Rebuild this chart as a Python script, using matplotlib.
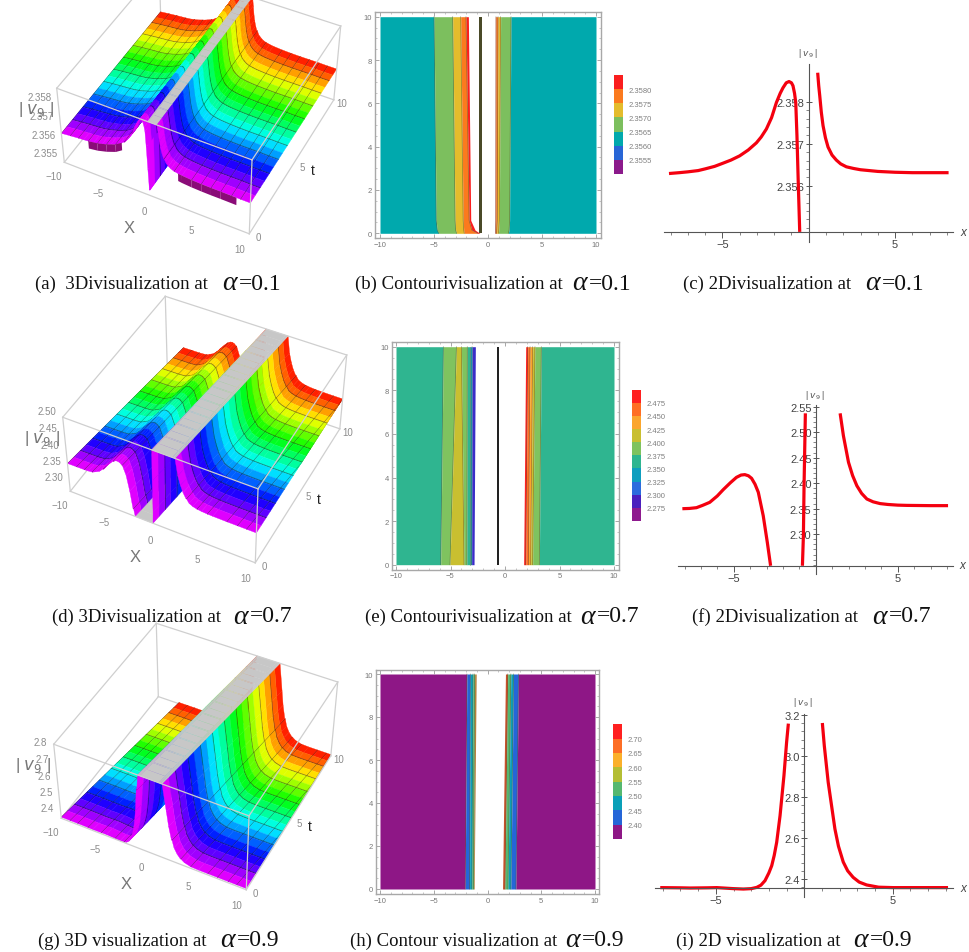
import numpy as np
import matplotlib
matplotlib.use('Agg')
import matplotlib.pyplot as plt
from matplotlib.colors import hsv_to_rgb

W, H = 969, 953
plt.rcParams['font.family'] = ['Liberation Sans', 'DejaVu Sans']

# profiles |v9|(x), extended to +-10 for the 3D panels
a_left_x = [-10, -9, -8.09, -7.5, -7, -6.4, -6, -5.45, -5, -4.5, -4, -3.5, -3.03, -2.75, -2.45, -2.15, -1.87, -1.65, -1.49, -1.3, -1.14, -1.0, -0.91, -0.82, -0.75, -0.68, -0.6, -0.52]
a_left_y = [2.3562, 2.35625, 2.35629, 2.35631, 2.35633, 2.35636, 2.3564, 2.35646, 2.35653, 2.35661, 2.35671, 2.35685, 2.35702, 2.35716, 2.35735, 2.35762, 2.35798, 2.3582, 2.35833, 2.35845, 2.35848, 2.35845, 2.35838, 2.3582, 2.35798, 2.35719, 2.35601, 2.3549]
a_mid_x = [-0.47, -0.44]
a_mid_y = [2.3549, 2.359]
a_right_x = [0.52, 0.58, 0.64, 0.73, 0.83, 0.97, 1.12, 1.35, 1.6, 1.85, 2.18, 2.6, 3, 4, 5, 6, 7, 8.1, 9, 10]
a_right_y = [2.35869, 2.35838, 2.35814, 2.35775, 2.35743, 2.35714, 2.35692, 2.35673, 2.35661, 2.35652, 2.35645, 2.35641, 2.35638, 2.35634, 2.35632, 2.35631, 2.35631, 2.35631, 2.3563, 2.3563]
# dark strip under the front edge of panel (a)
a_skirt_left_x = [-7.0, -6.0, -5.0, -4.0, -3.3]
a_skirt_left_y = [2.35633, 2.3564, 2.35653, 2.35671, 2.35693]
a_skirt_right_x = [2.6, 3, 4, 5, 6, 7, 8.6]
a_skirt_right_y = [2.35641, 2.35638, 2.35634, 2.35632, 2.35631, 2.35631, 2.3563]

d_left_x = [-10, -9, -8.13, -7.7, -7.27, -6.9, -6.46, -6.0, -5.64, -5.2, -4.83, -4.55, -4.32, -4.1, -3.91, -3.7, -3.5, -3.2, -2.95, -2.75]
d_left_y = [2.3495, 2.3498, 2.35, 2.3505, 2.352, 2.3565, 2.3625, 2.375, 2.3873, 2.401, 2.4115, 2.416, 2.4168, 2.4145, 2.4096, 2.398, 2.3822, 2.3363, 2.2839, 2.2381]
d_mid_x = [-0.81, -0.75, -0.71, -0.63]
d_mid_y = [2.2381, 2.297, 2.395, 2.537]
d_right_x = [1.49, 1.69, 2.0, 2.25, 2.51, 2.8, 3.12, 3.5, 3.93, 4.4, 5, 5.56, 7, 8.07, 9, 10]
d_right_y = [2.537, 2.493, 2.441, 2.415, 2.395, 2.38, 2.369, 2.3635, 2.36, 2.3583, 2.357, 2.3565, 2.356, 2.356, 2.356, 2.356]

g_left_x = [-10, -9, -8.14, -7, -6.45, -5.5, -4.94, -4, -3.44, -3.0, -2.69, -2.45, -2.22, -2.0, -1.84, -1.7, -1.56, -1.37, -1.15, -1.0, -0.9]
g_left_y = [2.358, 2.358, 2.358, 2.357, 2.356, 2.357, 2.358, 2.353, 2.351, 2.353, 2.359, 2.37, 2.392, 2.43, 2.465, 2.515, 2.579, 2.709, 2.904, 3.067, 3.158]
g_right_x = [1.02, 1.13, 1.35, 1.73, 1.93, 2.2, 2.45, 2.76, 3.1, 3.52, 4.2, 5.02, 6, 7, 8.12, 9, 10]
g_right_y = [3.161, 3.05, 2.872, 2.644, 2.56, 2.483, 2.44, 2.408, 2.385, 2.371, 2.36, 2.358, 2.358, 2.358, 2.358, 2.358, 2.358]

# 3D z ranges and ticks
a_zlim = [2.3546, 2.35855]
d_zlim = [2.26, 2.49]
g_zlim = [2.35, 2.8]
a_zticks = [2.355, 2.356, 2.357, 2.358]
d_zticks = [2.30, 2.35, 2.40, 2.45, 2.50]
g_zticks = [2.4, 2.5, 2.6, 2.7, 2.8]

# contour band boundaries (x at each t)
b_t = [0, 0.15, 0.6, 10]
b_left = [[-10, -10, -10, -10], [-4.55, -4.7, -4.8, -5.0], [-2.9, -3.0, -3.05, -3.27], [-2.2, -2.25, -2.3, -2.53], [-0.95, -1.5, -1.75, -2.04], [-0.75, -1.2, -1.6, -1.82]]
b_left_colors = ['#00A9AD', '#7CBF5E', '#E4BC2C', '#FB7A1E', '#FA1E1E']
b_right = [[0.65, 0.65, 0.66, 0.68], [0.7, 0.7, 0.72, 0.74], [0.8, 0.82, 0.86, 0.93], [0.96, 1.0, 1.05, 1.17], [1.88, 1.95, 2.0, 2.13], [10, 10, 10, 10]]
b_right_colors = ['#FA1E1E', '#FB7A1E', '#E4BC2C', '#7CBF5E', '#00A9AD']
b_line = [-0.8, -0.56]
b_levels = [2.3555, 2.3560, 2.3565, 2.3570, 2.3575, 2.3580]
b_bar = ['#8B1A8B', '#2866D6', '#00A9AD', '#7CBF5E', '#E4BC2C', '#FB7A1E', '#FA1E1E']

e_t = [0, 10]
e_left = [[-10, -10], [-5.9, -5.66], [-5.05, -4.46], [-3.76, -4.0], [-3.5, -3.46], [-3.2, -3.2], [-3.06, -3.02], [-2.84, -2.72]]
e_left_colors = ['#2FB590', '#7FC35F', '#C9BF30', '#7FC35F', '#2FB590', '#0E9EBF', '#3A2CC8']
e_right = [[1.71, 1.9], [1.9, 2.08], [2.15, 2.3], [2.35, 2.54], [2.54, 2.75], [3.15, 3.33], [10, 10]]
e_right_colors = ['#FF2020', '#FF6E24', '#FBA52D', '#C9BF30', '#7FC35F', '#2FB590']
e_line = [-0.76, -0.58]
e_levels = [2.275, 2.300, 2.325, 2.350, 2.375, 2.400, 2.425, 2.450, 2.475]
e_bar = ['#8E1A8E', '#4A20BE', '#2C6CDE', '#0E9EBF', '#2FB590', '#7FC35F', '#C9BF30', '#FBA52D', '#FF6E24', '#FF2020']

h_t = [0, 10]
h_left = [[-10, -10], [-2.08, -1.92], [-1.67, -1.6], [-1.45, -1.35], [-1.3, -1.2], [-1.24, -1.05]]
h_left_colors = ['#8E1786', '#2566D8', '#0AA0B8', '#55B870', '#B4803A']
h_right = [[1.4, 1.67], [1.62, 1.88], [1.9, 2.17], [2.17, 2.42], [2.64, 2.88], [10, 10]]
h_right_colors = ['#C8502A', '#55B870', '#0AA0B8', '#2566D8', '#8E1786']
h_levels = [2.40, 2.45, 2.50, 2.55, 2.60, 2.65, 2.70]
h_bar = ['#8E1786', '#2566D8', '#0AA0B8', '#55B870', '#B4BE34', '#FBB02A', '#FD6E26', '#FF2020']

# 2D panel ticks
c_yticks = [2.356, 2.357, 2.358]
f_yticks = [2.30, 2.35, 2.40, 2.45, 2.50, 2.55]
i_yticks = [2.4, 2.6, 2.8, 3.0, 3.2]
x_ticks_2d = [-5, 5]

captions = ['(a)  3Divisualization at', '(b) Contourivisualization at', '(c) 2Divisualization at',
            '(d) 3Divisualization at', '(e) Contourivisualization at', '(f) 2Divisualization at',
            '(g) 3D visualization at', '(h) Contour visualization at', '(i) 2D visualization at']
alpha_vals = ['0.1', '0.1', '0.1', '0.7', '0.7', '0.7', '0.9', '0.9', '0.9']


def px_axes(fig, left, top, right, bottom, **kw):
    ax = fig.add_axes([left / W, 1 - bottom / H, (right - left) / W, (bottom - top) / H], **kw)
    return ax


def rainbow(t):
    return hsv_to_rgb([(300 - 30 * t) / 360.0, 1.0, 1.0])


def plot_3d(fig, box, x, z, zlim, zticks, zfmt, drift, view):
    ax = px_axes(fig, *box, projection='3d')
    ax.set_axis_off()
    ax.patch.set_visible(False)
    ax.computed_zorder = False
    ax.set_proj_type('persp', focal_length=view['focal'])
    ax.view_init(elev=view['elev'], azim=view['azim'])
    ax.set_box_aspect((1, 1, view['height']), zoom=view['zoom'])
    ax.set_xlim(-10, 10, view_margin=0)
    ax.set_ylim(0, 10, view_margin=0)
    ax.set_zlim(zlim[0], zlim[1], view_margin=0)

    # mesh lines: narrow dark cells on the surface
    x = np.array(x, float)
    z = np.clip(np.array(z, float), zlim[0], zlim[1])
    cols_x, cols_z, col_dark = [], [], []
    last = -99
    for i in range(len(x)):
        cols_x.append(x[i])
        cols_z.append(z[i])
        if x[i] - last >= 0.85 and i + 1 < len(x) and x[i + 1] - x[i] > 0.2:
            col_dark.append(True)
            cols_x.append(x[i] + 0.06)
            cols_z.append(z[i])
            col_dark.append(False)
            last = x[i]
        else:
            col_dark.append(False)
    cols_x = np.array(cols_x)
    cols_z = np.array(cols_z)

    rows_t, row_col, row_dark = [], [], []
    for k in range(20):
        t0 = k * 0.5
        if k % 2 == 0 and k > 0:
            rows_t += [t0, t0 + 0.06]
            row_col += [t0 + 0.25, t0 + 0.25]
            row_dark += [True, False]
        else:
            rows_t.append(t0)
            row_col.append(t0 + 0.25)
            row_dark.append(False)
    rows_t.append(10.0)
    row_col.append(9.75)
    row_dark.append(False)
    rows_t = np.array(rows_t)

    X = np.clip(cols_x[None, :] + drift * rows_t[:, None], -10, 10)
    T = np.tile(rows_t[:, None], (1, len(cols_x)))
    Z = np.tile(cols_z[None, :], (len(rows_t), 1))
    fc = np.zeros((len(rows_t), len(cols_x), 4))
    for r in range(len(rows_t)):
        rgb = rainbow(row_col[r])
        for c in range(len(cols_x)):
            clipped = c + 1 < len(cols_x) and (
                (cols_z[c] >= zlim[1] and cols_z[c + 1] >= zlim[1]) or
                (cols_z[c] <= zlim[0] and cols_z[c + 1] <= zlim[0]))
            if clipped:
                fc[r, c] = (0.78, 0.78, 0.78, 1)
            elif row_dark[r] or col_dark[c]:
                fc[r, c, :3] = rgb * 0.55
                fc[r, c, 3] = 1
            else:
                fc[r, c, :3] = rgb
                fc[r, c, 3] = 1
    ax.plot_surface(X, T, Z, facecolors=fc, rstride=1, cstride=1, shade=False,
                    linewidth=0.25, antialiased=True, zorder=2)

    # bounding box
    z0, z1 = zlim
    box_col = '#cfcfcf'
    back = [([-10, 10], [10, 10], [z0, z0]), ([-10, -10], [0, 10], [z0, z0]), ([-10, -10], [10, 10], [z0, z1])]
    front = [([-10, 10], [0, 0], [z0, z0]), ([10, 10], [0, 10], [z0, z0]),
             ([-10, 10], [0, 0], [z1, z1]), ([10, 10], [0, 10], [z1, z1]),
             ([-10, 10], [10, 10], [z1, z1]), ([-10, -10], [0, 10], [z1, z1]),
             ([-10, -10], [0, 0], [z0, z1]), ([10, 10], [0, 0], [z0, z1]), ([10, 10], [10, 10], [z0, z1])]
    for e in back:
        ax.plot(*e, color=box_col, lw=0.9, zorder=1)
    for e in front:
        ax.plot(*e, color=box_col, lw=0.9, zorder=3)

    # tick labels
    grey = '#8c8c8c'
    dz = z1 - z0
    for v in [-10, -5, 0, 5, 10]:
        lab = ('\u2212%d' % -v) if v < 0 else '%d' % v
        ax.text(v, -1.0, z0, lab, color=grey, fontsize=7, ha='center', va='center', zorder=4)
    for v in [0, 5, 10]:
        ax.text(10.9, v, z0, '%d' % v, color=grey, fontsize=7, ha='center', va='center', zorder=4)
    for v in zticks:
        ax.text(-10.7, 0, v, zfmt % v, color=grey, fontsize=7, ha='right', va='center', zorder=4)
    ax.text(-0.3, -2.2, z0, 'X', color='#777777', fontsize=12, ha='center', va='center', zorder=4)
    ax.text(12.0, 5, z0, 't', color='#222222', fontsize=10, ha='center', va='center', zorder=4)
    ax.text(-12.6, 0, z0 + 0.62 * dz, '| $v_9$ |', color='#777777', fontsize=12, ha='center', va='center', zorder=4)
    return ax


def plot_skirt(ax, x, z, drop):
    x = np.array(x)
    z = np.array(z)
    X = np.vstack([x, x])
    T = np.zeros_like(X)
    Z = np.vstack([z, z - drop])
    ax.plot_surface(X, T, Z, color='#8A0C78', rstride=1, cstride=1, shade=False, linewidth=0.25, zorder=2.5)


def plot_contour(fig, box, x0, x1, y0, y1, t, left, left_colors, right, right_colors, line_x, line_col):
    # box is the frame in pixels, x0/x1/y0/y1 the pixels of data +-10 and 0, 10
    ax = px_axes(fig, *box)
    ux = (x1 - x0) / 20.0
    uy = (y0 - y1) / 10.0
    ax.set_xlim(-10 + (box[0] - x0) / ux, -10 + (box[2] - x0) / ux)
    ax.set_ylim((y0 - box[3]) / uy, (y0 - box[1]) / uy)
    for bounds, colors in [(left, left_colors), (right, right_colors)]:
        for i, col in enumerate(colors):
            ax.fill_betweenx(t, bounds[i], bounds[i + 1], color=col, lw=0)
            if 0 < i:
                ax.plot(bounds[i], t, color='#5a5a30', lw=0.5, alpha=0.6)
    if line_x is not None:
        ax.fill_betweenx([0, 10], line_x[0], line_x[1], color=line_col, lw=0)
    for s in ax.spines.values():
        s.set_color('#a8a8a8')
        s.set_linewidth(1.0)
    ax.set_xticks([-10, -5, 0, 5, 10], ['\u221210', '\u22125', '0', '5', '10'])
    ax.set_yticks([0, 2, 4, 6, 8, 10])
    ax.set_xticks(np.arange(-10, 10.1, 1), minor=True)
    ax.set_yticks(np.arange(0, 10.1, 0.5), minor=True)
    ax.tick_params(which='major', direction='in', top=True, right=True, length=3, width=0.6,
                   color='#999999', labelcolor='#777777', labelsize=5.5, pad=2)
    ax.tick_params(which='minor', direction='in', top=True, right=True, length=1.5, width=0.4, color='#999999')
    return ax


def plot_bar(fig, box, levels, colors, fmt):
    ax = px_axes(fig, *box)
    step = levels[1] - levels[0]
    edges = [levels[0] - step] + list(levels) + [levels[-1] + step]
    for i, col in enumerate(colors):
        ax.bar(0, edges[i + 1] - edges[i], bottom=edges[i], width=1, color=col, lw=0)
    ax.set_xlim(-0.5, 0.5)
    ax.set_ylim(edges[0], edges[-1])
    ax.set_xticks([])
    ax.yaxis.tick_right()
    ax.set_yticks(levels, [fmt % v for v in levels])
    ax.tick_params(axis='y', length=0, pad=4, labelcolor='#808080', labelsize=5.5)
    for s in ax.spines.values():
        s.set_visible(False)
    return ax


def plot_2d(fig, box, x_px, y_ref, branches, yticks, yfmt, ylab_xy, xlab_xy):
    # box: left, top, right, bottom of the drawn axes in pixels
    # x_px: pixel of x=0 and pixels per unit; y_ref: two (value, pixel) pairs; axis_y pixel in box[4]
    left, top, right, bottom, axis_y = box
    ax = px_axes(fig, left, top, right, bottom)
    x0, ux = x_px
    (v0, p0), (v1, p1) = y_ref
    uy = (p0 - p1) / (v1 - v0)
    ax.set_xlim((left - x0) / ux, (right - x0) / ux)
    ax.set_ylim(v0 + (p0 - bottom) / uy, v0 + (p0 - top) / uy)
    ax.patch.set_visible(False)
    for bx, by in branches:
        bx = np.array(bx)
        by = np.array(by)
        keep = np.abs(bx) <= 8.2
        ax.plot(bx[keep], by[keep], color='#f4000f', lw=2.3, solid_capstyle='butt', clip_on=False)
    ax.spines['top'].set_visible(False)
    ax.spines['right'].set_visible(False)
    axis_val = v0 + (p0 - axis_y) / uy
    ax.spines['bottom'].set_position(('data', axis_val))
    ax.spines['left'].set_position(('data', 0))
    ax.spines['bottom'].set_color('#555555')
    ax.spines['left'].set_color('#555555')
    ax.set_xticks(x_ticks_2d, ['\u22125', '5'])
    ax.set_yticks(yticks, [yfmt % v for v in yticks])
    ax.set_xticks(np.arange(-8, 8.1, 1), minor=True)
    step = (yticks[1] - yticks[0]) / 5.0
    minor = np.arange(yticks[0] - 10 * step, yticks[-1] + step * 0.5, step)
    ax.set_yticks(minor[minor > axis_val], minor=True)
    ax.tick_params(which='major', length=4, width=0.7, color='#555555', labelcolor='#444444', labelsize=8)
    ax.tick_params(axis='y', which='major', direction='inout', pad=1)
    ax.tick_params(which='minor', length=2, width=0.5, color='#555555')
    ax.tick_params(axis='x', which='major', pad=1)
    fig.text(ylab_xy[0] / W, 1 - ylab_xy[1] / H, '| $v_9$ |', color='#555555', fontsize=6.5, ha='center', va='center')
    fig.text(xlab_xy[0] / W, 1 - xlab_xy[1] / H, 'x', style='italic', color='#444444', fontsize=8.5, ha='center', va='center')
    return ax


fig = plt.figure(figsize=(W / 100.0, H / 100.0), dpi=100, facecolor='white')

# 3D panels
view = {'elev': 44, 'azim': -63, 'height': 0.5, 'focal': 0.6, 'zoom': 0.7125}
ax_a = plot_3d(fig, (-13.5, -109, 406.5, 311), a_left_x + a_mid_x + a_right_x, a_left_y + a_mid_y + a_right_y,
               a_zlim, a_zticks, '%.3f', 0.0, view)
plot_skirt(ax_a, a_skirt_left_x, a_skirt_left_y, 0.0004)
plot_skirt(ax_a, a_skirt_right_x, a_skirt_right_y, 0.0004)
plot_3d(fig, (-7.5, 220, 412.5, 640), d_left_x + d_mid_x + d_right_x, d_left_y + d_mid_y + d_right_y,
        d_zlim, d_zticks, '%.2f', 0.2, view)
plot_3d(fig, (-16.5, 547, 403.5, 967), g_left_x + g_right_x, g_left_y + g_right_y,
        g_zlim, g_zticks, '%.1f', 0.25, view)

# contour panels
plot_contour(fig, (375, 12.7, 600.7, 239.3), 380, 596, 234.3, 17.7, b_t, b_left, b_left_colors,
             b_right, b_right_colors, b_line, '#4A4A28')
plot_bar(fig, (614, 76, 623, 175), b_levels, b_bar, '%.4f')
plot_contour(fig, (391.7, 342.7, 618.7, 570.7), 396, 614, 565.7, 347.7, e_t, e_left, e_left_colors,
             e_right, e_right_colors, e_line, '#222222')
plot_bar(fig, (632, 390.7, 641, 522), e_levels, e_bar, '%.3f')
plot_contour(fig, (375.7, 670.7, 599.3, 895.3), 380, 595, 890, 675, h_t, h_left, h_left_colors,
             h_right, h_right_colors, None, None)
plot_bar(fig, (612.7, 725.3, 621.7, 840), h_levels, h_bar, '%.2f')

# 2D panels
plot_2d(fig, (664, 65, 953, 242.7, 233.3), (808.7, 17.27), ((2.358, 102.7), (2.356, 186.7)),
        [(a_left_x, a_left_y), (a_right_x, a_right_y)], c_yticks, '%.3f', (808, 54), (963, 233))
plot_2d(fig, (678, 406, 952.7, 575, 566.7), (815.7, 16.4), ((2.35, 509.7), (2.55, 407.7)),
        [(d_left_x, d_left_y), (d_mid_x, d_mid_y), (d_right_x, d_right_y)], f_yticks, '%.2f', (815, 396), (962, 566))
plot_2d(fig, (655, 715, 953, 898, 889.3), (804.3, 17.7), ((2.4, 880), (3.2, 716)),
        [(g_left_x, g_left_y), (g_right_x, g_right_y)], i_yticks, '%.1f', (803, 703), (963, 889))

# captions
cap_x = [35, 355, 683, 52, 365, 692, 38, 350, 676]
cap_y = [284, 284, 284, 617, 617, 617, 941, 941, 941]
alpha_x = [222, 572, 865, 233, 580, 872, 220, 565, 853]
for i in range(9):
    fig.text(cap_x[i] / W, 1 - cap_y[i] / H, captions[i], family='Liberation Serif', fontsize=13.5,
             color='#111111', ha='left', va='center')
    fig.text(alpha_x[i] / W, 1 - cap_y[i] / H, '\u03b1', family='Liberation Serif', style='italic', fontsize=20,
             color='#111111', ha='left', va='center')
    fig.text((alpha_x[i] + 17) / W, 1 - cap_y[i] / H, '=' + alpha_vals[i], family='Liberation Serif', fontsize=17,
             color='#111111', ha='left', va='center')

fig.savefig('out.png', dpi=100)
